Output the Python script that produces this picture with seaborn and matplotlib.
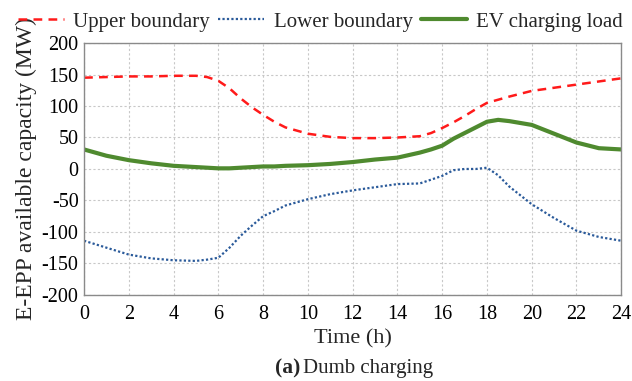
import matplotlib
matplotlib.use("Agg")
import matplotlib.pyplot as plt
import seaborn as sns
import pandas as pd

time = [0, 1, 2, 3, 4, 5, 5.5, 6, 6.5, 7, 7.5, 8, 8.5, 9, 10, 11, 12, 13, 14, 15, 15.5,
        16, 16.5, 17, 17.5, 18, 18.5, 19, 20, 21, 22, 23, 24]
upper = [145, 146, 147, 147, 148, 148, 146, 140, 128, 112, 98, 86, 75, 66, 56, 51, 49, 49, 50, 52, 57,
         65, 74, 84, 95, 105, 110, 115, 124, 129, 134, 139, 144]
lower = [-114, -125, -136, -142, -145, -146, -144, -141, -125, -106, -90, -75, -67, -58, -48, -40, -34, -29, -24, -23, -17,
         -11, -2, 0, 0, 2, -10, -28, -56, -78, -98, -108, -114]
ev_load = [31, 21, 14, 9, 5, 3, 2, 1, 1, 2, 3, 4, 4, 5, 6, 8, 11, 15, 18, 26, 31,
           37, 48, 57, 66, 75, 78, 76, 70, 56, 42, 33, 31]
series_names = ["Upper boundary", "Lower boundary", "EV charging load"]
xticks = list(range(0, 25, 2))
yticks = list(range(-200, 201, 50))

sns.set_style("white")
plt.rcParams["font.family"] = ["Liberation Serif", "DejaVu Serif"]
plt.rcParams["axes.unicode_minus"] = False

fig = plt.figure(figsize=(6.32, 3.81), dpi=100)
ax = fig.add_axes([0.133, 0.226, 0.850, 0.661])

df = pd.DataFrame({"time": time, "upper": upper, "lower": lower, "ev": ev_load})
sns.lineplot(data=df, x="time", y="upper", ax=ax, color="#ff1a1a", lw=1.8,
             label=series_names[0])
sns.lineplot(data=df, x="time", y="lower", ax=ax, color="#2a5a9a", lw=1.6,
             label=series_names[1])
sns.lineplot(data=df, x="time", y="ev", ax=ax, color="#4f8a2f", lw=3.0,
             label=series_names[2])
lines = ax.get_lines()
lines[0].set_linestyle((0, (3.5, 2.5)))
lines[1].set_linestyle((0, (1, 1)))

ax.set_xlim(0, 24)
ax.set_ylim(-200, 200)
ax.set_xticks(xticks)
ax.set_yticks(yticks)
ax.tick_params(axis="both", labelsize=14.5, length=0, colors="black")
ax.tick_params(axis="x", pad=7)
ax.tick_params(axis="y", pad=4)
ax.grid(True, color="#c8c8c8", linestyle=(0, (2, 2)), linewidth=0.8)
for s in ax.spines.values():
    s.set_color("#8a8a8a")
    s.set_linewidth(1.0)

ax.set_xlabel("Time (h)", fontsize=16, labelpad=4)
ax.set_ylabel("E-EPP available capacity (MW)", fontsize=17, labelpad=3)

leg = ax.legend(loc="lower center", bbox_to_anchor=(0.44, 1.0), ncol=3, frameon=False,
                fontsize=15, handlelength=2.2, columnspacing=0.4, handletextpad=0.45,
                borderaxespad=0.15)

fig.text(0.476, 0.034, "(a)", fontsize=15.5, fontweight="bold", ha="right", va="center")
fig.text(0.479, 0.034, "Dumb charging", fontsize=15, ha="left", va="center")

fig.savefig("out.png", dpi=100)
